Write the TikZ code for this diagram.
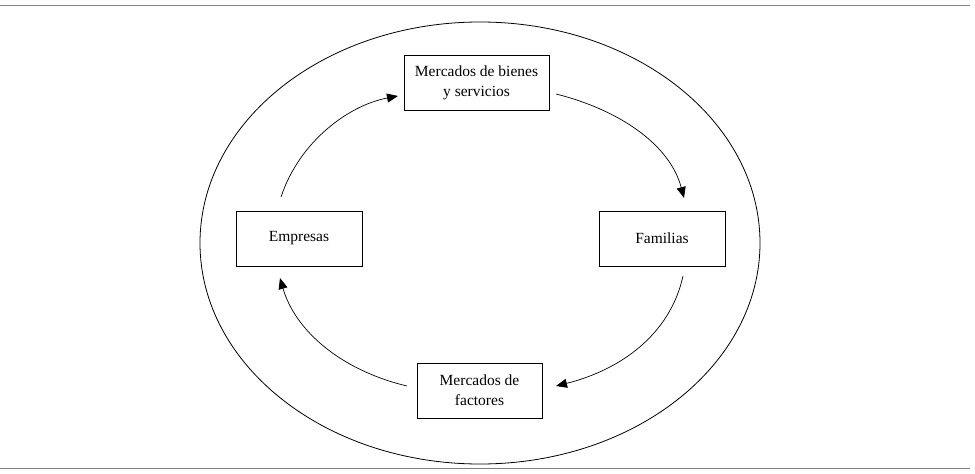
\documentclass[tikz,border=0pt]{standalone}
\usepackage{fontspec}
\setmainfont{Liberation Serif}
\usetikzlibrary{arrows.meta}
\begin{document}
\begin{tikzpicture}[x=1pt,y=-1pt,
  box/.style={draw,line width=0.7pt,minimum width=126pt,minimum height=55pt,align=center,font=\fontsize{15.5}{20}\selectfont,inner sep=2pt},
  flow/.style={line width=0.7pt,-{Triangle[length=11pt,width=9pt]}}]
\useasboundingbox (0,0) rectangle (975,474);
\draw[gray,line width=0.8pt] (0,5) -- (970,5);
\draw[gray,line width=0.8pt] (0,468) -- (970,468);
\draw[line width=0.8pt] (480,243) ellipse [x radius=280, y radius=221];
\node[box,minimum width=145pt] (mb) at (476.5,82.5) {Mercados de bienes\\y servicios};
\node[box] (em) at (299,238.5) {Empresas};
\node[box] (fa) at (662,238.5) {Familias};
\node[box,minimum width=125pt] (mf) at (479.5,390.5) {Mercados de\\factores};
\coordinate (a1) at (281,197);
\coordinate (b1) at (398,96);
\coordinate (a2) at (556,94);
\coordinate (b2) at (684,198);
\coordinate (a3) at (683,276);
\coordinate (b3) at (556,386);
\coordinate (a4) at (407,386);
\coordinate (b4) at (280,278);
\draw[flow] (a1) .. controls (300,140) and (350,105) .. (b1);
\draw[flow] (a2) .. controls (620,110) and (670,145) .. (b2);
\draw[flow] (a3) .. controls (670,335) and (620,370) .. (b3);
\draw[flow] (a4) .. controls (340,370) and (295,330) .. (b4);
\end{tikzpicture}
\end{document}
